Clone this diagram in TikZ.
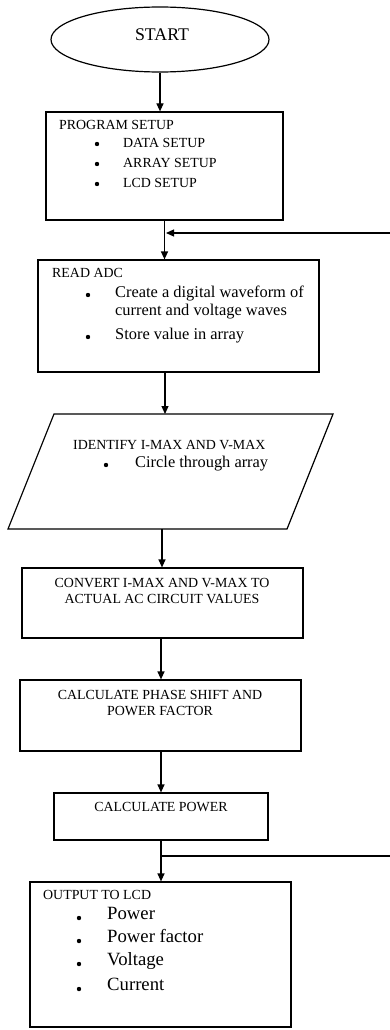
\documentclass[tikz,border=0pt]{standalone}
\usepackage{fontspec}
\setmainfont{Liberation Serif}
\usetikzlibrary{shapes.geometric,arrows.meta}
\begin{document}
\begin{tikzpicture}[x=1pt,y=-1pt,
  ln/.style={line width=1.2pt},
  box/.style={draw,line width=1.2pt,inner sep=0pt},
  arr/.style={line width=1.2pt,-{Triangle[length=8pt,width=7pt]}},
  captxt/.style={font=\fontsize{13.9}{16}\selectfont,inner sep=0pt,anchor=mid west},
  capctr/.style={font=\fontsize{13.9}{16}\selectfont,inner sep=0pt,align=center},
  smalltxt/.style={font=\fontsize{16.4}{18}\selectfont,inner sep=0pt,anchor=mid west},
  bigtxt/.style={font=\fontsize{18.7}{20}\selectfont,inner sep=0pt,anchor=mid west},
  bul/.style={circle,fill=black,inner sep=0pt,minimum size=4.4pt}]
\useasboundingbox (0,0) rectangle (390,1030);
\fill[white] (0,0) rectangle (390,1030);

% START
\node[draw,ellipse,line width=1.2pt,minimum width=218pt,minimum height=65pt,inner sep=0pt] (start) at (160,39.5) {};
\node[font=\fontsize{17.8}{18}\selectfont,inner sep=0pt] (starttxt) at (162,35) {START};

% PROGRAM SETUP
\node[box,minimum width=237pt,minimum height=108pt] (setup) at (164.5,166) {};
\node[captxt] (t1) at (59,127) {PROGRAM SETUP};
\node[bul] (b1) at (97,144) {};
\node[bul] (b2) at (97,164) {};
\node[bul] (b3) at (97,184) {};
\node[captxt] (t2) at (123,145) {DATA SETUP};
\node[captxt] (t3) at (123,165) {ARRAY SETUP};
\node[captxt] (t4) at (123,185) {LCD SETUP};

% READ ADC
\node[box,minimum width=281pt,minimum height=112pt] (adc) at (178.5,316) {};
\node[captxt] (r1) at (52,275) {READ ADC};
\node[bul] (rb1) at (88,295) {};
\node[bul] (rb2) at (88,337) {};
\node[smalltxt] (r2) at (115,295) {Create a digital waveform of};
\node[smalltxt] (r3) at (115,313) {current and voltage waves};
\node[smalltxt] (r4) at (115,337) {Store value in array};

% IDENTIFY (parallelogram)
\draw[ln] (54,414) -- (333,414) -- (287,529) -- (8,529) -- cycle;
\coordinate (idtop) at (165,414);
\coordinate (idbot) at (162,529);
\node[captxt] (i1) at (73,447) {IDENTIFY I-MAX AND V-MAX};
\node[bul] (ib1) at (106,465) {};
\node[smalltxt] (i2) at (135,465) {Circle through array};

% CONVERT
\node[box,minimum width=281pt,minimum height=70pt] (conv) at (162.5,603) {};
\node[capctr] (c1) at (162,591) {CONVERT I-MAX AND V-MAX TO\\ACTUAL AC CIRCUIT VALUES};

% PHASE
\node[box,minimum width=281pt,minimum height=71pt] (phase) at (160.5,715.5) {};
\node[capctr] (p1) at (160,703) {CALCULATE PHASE SHIFT AND\\POWER FACTOR};

% POWER
\node[box,minimum width=214pt,minimum height=47pt] (power) at (161,816.5) {};
\node[capctr] (w1) at (161,807) {CALCULATE POWER};

% OUTPUT
\node[box,minimum width=261pt,minimum height=145pt] (out) at (160.5,954.5) {};
\node[captxt] (o1) at (43,897) {OUTPUT TO LCD};
\node[bul] (ob1) at (79,918) {};
\node[bul] (ob2) at (79,941) {};
\node[bul] (ob3) at (79,964) {};
\node[bul] (ob4) at (79,989) {};
\node[bigtxt] (o2) at (107,917) {Power};
\node[bigtxt] (o3) at (107,940) {Power factor};
\node[bigtxt] (o4) at (107,963) {Voltage};
\node[bigtxt] (o5) at (107,988) {Current};

% connectors
\coordinate (fbin) at (390,233);
\coordinate (fbout) at (390,856);
\draw[arr] (start.south) -- (start.south |- setup.north);
\draw[arr] (setup.south) -- (setup.south |- adc.north);
\draw[arr] (fbin) -- ([xshift=1.5pt]fbin -| setup.south);
\draw[arr] (idtop |- adc.south) -- (idtop);
\draw[arr] (idbot) -- (idbot |- conv.north);
\draw[arr] (conv.south -| power.south) -- (power.south |- phase.north);
\draw[arr] (phase.south -| power.south) -- (power.north);
\draw[arr] (power.south) -- (out.north -| power.south);
\draw[ln] (fbout -| power.south) -- (fbout);
\end{tikzpicture}
\end{document}
